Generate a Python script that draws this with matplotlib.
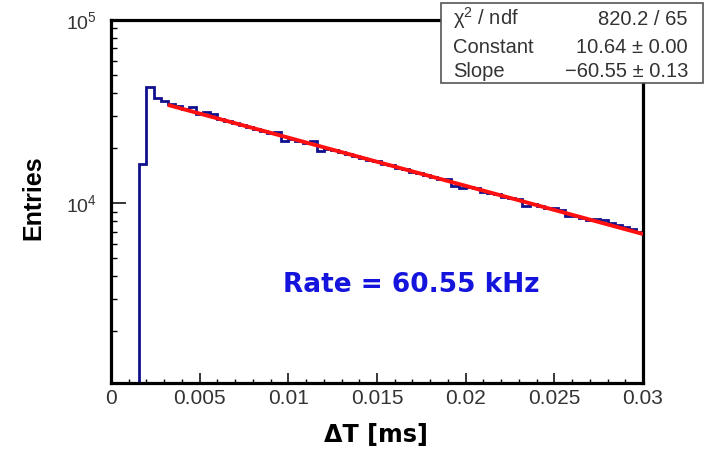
import numpy as np
import matplotlib
matplotlib.use("Agg")
import matplotlib.pyplot as plt
from matplotlib.patches import Rectangle
from matplotlib.ticker import FixedLocator, NullFormatter, LogLocator

plt.rcParams["font.family"] = ["Liberation Sans", "DejaVu Sans"]
plt.rcParams["mathtext.fontset"] = "custom"
plt.rcParams["mathtext.rm"] = "Liberation Sans"
plt.rcParams["mathtext.it"] = "Liberation Sans:italic"
plt.rcParams["mathtext.bf"] = "Liberation Sans:bold"

# Histogram of time differences between consecutive hits
x_min, x_max = 0.0, 0.03
bin_width = 0.0004
counts = [
    0, 0, 0, 0, 16300, 43000, 37400, 36200,
    34700, 33850, 32720, 33510, 30550, 31330, 30580, 28700,
    27950, 27420, 26600, 26150, 25380, 24900, 24150, 24590,
    21810, 22300, 21900, 21400, 21780, 19320, 19850, 19500,
    18950, 18600, 18050, 17750, 17200, 16900, 16380, 16100,
    15600, 15330, 14880, 14600, 14190, 13920, 13560, 13550,
    12390, 12150, 12250, 12050, 11480, 11400, 11200, 10850,
    10700, 10590, 9670, 9850, 9680, 9400, 9420, 9150,
    8500, 8530, 8360, 8120, 8230, 8070, 7840, 7650,
    7430, 7220, 6940,
]

# Exponential fit: exp(constant + slope * x)
fit_constant = 10.64
fit_slope = -60.55
fit_range = (0.0032, 0.03)
chi2, ndf = 820.2, 65
constant_err, slope_err = 0.00, 0.13
rate_khz = 60.55

x_ticks = [0, 0.005, 0.01, 0.015, 0.02, 0.025, 0.03]
x_tick_labels = ["0", "0.005", "0.01", "0.015", "0.02", "0.025", "0.03"]
y_min, y_max = 1045, 1e5

hist_color = "#10108f"
fit_color = "#ff1010"
text_gray = "#333333"

W, H = 725, 450
fig = plt.figure(figsize=(W / 100, H / 100), dpi=100)
ax_l, ax_r, ax_t, ax_b = 111, 643, 20, 383
ax = fig.add_axes([ax_l / W, 1 - ax_b / H, (ax_r - ax_l) / W, (ax_b - ax_t) / H])

edges = np.arange(len(counts) + 1) * bin_width
vals = np.maximum(np.array(counts, dtype=float), y_min)
ax.stairs(vals, edges, color=hist_color, linewidth=2.0, zorder=2)

xf = np.linspace(fit_range[0], fit_range[1], 300)
ax.plot(xf, np.exp(fit_constant + fit_slope * xf), color=fit_color, linewidth=2.8,
        zorder=3, solid_capstyle="butt")

ax.set_yscale("log")
ax.set_xlim(x_min, x_max)
ax.set_ylim(y_min, y_max)

ax.set_xticks(x_ticks)
ax.set_xticklabels(x_tick_labels)
ax.xaxis.set_minor_locator(FixedLocator(np.arange(0, 0.0301, 0.001)))
ax.yaxis.set_major_locator(FixedLocator([1e4, 1e5]))
ax.set_yticklabels([r"$\mathregular{10^{4}}$", r"$\mathregular{10^{5}}$"])
ax.yaxis.set_minor_locator(LogLocator(base=10, subs=np.arange(2, 10)))
ax.yaxis.set_minor_formatter(NullFormatter())

ax.tick_params(axis="x", which="major", direction="in", length=7, width=1.1,
               labelsize=15, pad=4.5, labelcolor=text_gray, top=False)
ax.tick_params(axis="x", which="minor", direction="in", length=3.2, width=1.0, top=False)
ax.tick_params(axis="y", which="major", direction="in", length=11, width=1.1,
               labelsize=14, pad=10, labelcolor=text_gray, right=False)
ax.tick_params(axis="y", which="minor", direction="in", length=4.5, width=1.0, right=False)

for sp in ax.spines.values():
    sp.set_linewidth(2.3)
    sp.set_color("black")

# Axis titles
fig.text(376 / W, 1 - 442 / H, "ΔT [ms]", ha="center", va="baseline",
         fontsize=17.2, fontweight="bold", color="black", family="DejaVu Sans")
fig.text(33 / W, 1 - 198 / H, "Entries", ha="center", va="center", rotation=90,
         fontsize=18, fontweight="bold", color="black")

# Rate annotation
ax.text((283 - ax_l) / (ax_r - ax_l), (ax_b - 292) / (ax_b - ax_t),
        f"Rate = {rate_khz:.2f} kHz", transform=ax.transAxes, ha="left", va="baseline",
        fontsize=19, fontweight="bold", color="#1414dc", family="DejaVu Sans")

# Fit statistics box
bx0, bx1, by0, by1 = 441, 703, 3, 83
fig.patches.append(Rectangle((bx0 / W, 1 - by1 / H), (bx1 - bx0) / W, (by1 - by0) / H,
                             transform=fig.transFigure, facecolor="white",
                             edgecolor="#555555", linewidth=1.2, zorder=10))
rows = [
    (r"$\mathregular{\chi^{2}}$ / ndf", f"{chi2:.1f} / {ndf}"),
    ("Constant", f"{fit_constant:.2f} ± {constant_err:.2f}"),
    ("Slope", f"\u2212{abs(fit_slope):.2f} ± {slope_err:.2f}"),
]
baselines = [25, 52.7, 77.3]
for (lab, val), yb in zip(rows, baselines):
    fig.text(453 / W, 1 - yb / H, lab, ha="left", va="baseline", fontsize=14.5,
             color=text_gray, zorder=11)
    fig.text(688 / W, 1 - yb / H, val, ha="right", va="baseline", fontsize=14.5,
             color=text_gray, zorder=11)

fig.savefig("out.png", dpi=100, facecolor="white")
